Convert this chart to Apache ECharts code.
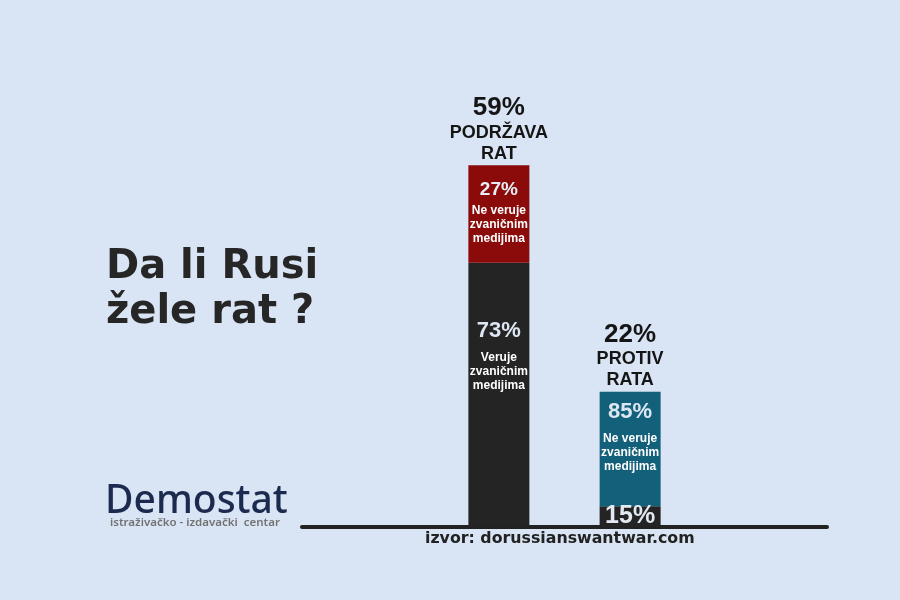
<!DOCTYPE html>
<html>
<head>
<meta charset="utf-8">
<script src="https://cdn.jsdelivr.net/npm/echarts@6/dist/echarts.min.js"></script>
<style>
html,body{margin:0;padding:0;background:#d9e5f4;}
#chart{width:900px;height:600px;}
</style>
</head>
<body>
<div id="chart"></div>
<script>
// Data
var categories = ['', 'PODRŽAVA RAT', 'PROTIV RATA', ''];
var groupShare = [null, 59, 22, null];          // % of all respondents
var groupLine1 = [null, 'PODRŽAVA', 'PROTIV', null];
var groupLine2 = [null, 'RAT', 'RATA', null];
var trustShare = [null, 73, 15, null];          // % trusting official media
var distrustShare = [null, 27, 85, null];       // % not trusting official media
var trustText = ['Veruje', 'zvaničnim', 'medijima'];
var distrustText = ['Ne veruje', 'zvaničnim', 'medijima'];

var trustVals = groupShare.map(function (g, i) { return g == null ? null : g * trustShare[i] / 100; });
var distrustVals = groupShare.map(function (g, i) { return g == null ? null : g * distrustShare[i] / 100; });
var topVals = groupShare.map(function (g) { return g == null ? null : 0; });

var chart = echarts.init(document.getElementById('chart'));
var FF = 'Liberation Sans';

var txtRich = {
  p: { fontFamily: FF, fontWeight: 'bold', fontSize: 22, color: '#dde7f3', lineHeight: 40 },
  p2: { fontFamily: FF, fontWeight: 'bold', fontSize: 19, color: '#e8eef6', lineHeight: 28 },
  p3: { fontFamily: FF, fontWeight: 'bold', fontSize: 25, color: '#e2e9f3', lineHeight: 26 },
  t: { fontFamily: FF, fontWeight: 'bold', fontSize: 12, color: '#ffffff', lineHeight: 14 }
};

function block(pct, style, lines) {
  var s = '{' + style + '|' + pct + '%}';
  if (lines) lines.forEach(function (l) { s += '\n{t|' + l + '}'; });
  return s;
}

var option = {
  backgroundColor: '#d9e5f4',
  animation: false,
  textStyle: { fontFamily: FF },
  grid: { left: 302, right: 73, top: 36.5, bottom: 73.5 },
  xAxis: {
    type: 'category',
    data: categories,
    axisLine: { show: true, lineStyle: { color: '#222222', width: 4 } },
    axisTick: { show: false },
    axisLabel: { show: false },
    splitLine: { show: false }
  },
  yAxis: {
    type: 'value', min: 0, max: 80, show: false,
    splitLine: { show: false }
  },
  series: [
    {
      name: 'trust', type: 'bar', stack: 'g', barWidth: 61, z: 2,
      data: trustVals.map(function (v, i) {
        if (v == null) return null;
        var big = i === 1;
        return {
          value: v,
          itemStyle: { color: '#242424' },
          label: big ? {
            show: true, position: 'insideTop', distance: 48,
            formatter: block(trustShare[i], 'p', trustText), rich: txtRich
          } : {
            show: true, position: 'inside',
            formatter: block(trustShare[i], 'p3', null), rich: txtRich
          }
        };
      })
    },
    {
      name: 'distrust', type: 'bar', stack: 'g', barWidth: 61, z: 2,
      data: distrustVals.map(function (v, i) {
        if (v == null) return null;
        var first = i === 1;
        return {
          value: v,
          itemStyle: { color: first ? '#8b0b0b' : '#13607a' },
          label: {
            show: true, position: 'insideTop', distance: first ? 11 : 0,
            formatter: block(distrustShare[i], first ? 'p2' : 'p', distrustText), rich: txtRich
          }
        };
      })
    },
    {
      name: 'total', type: 'bar', stack: 'g', barWidth: 61, z: 3,
      data: topVals.map(function (v, i) {
        if (v == null) return null;
        return {
          value: v,
          label: {
            show: true, position: 'top', distance: 1,
            formatter: '{a|' + groupShare[i] + '%}\n{b|' + groupLine1[i] + '}\n{b|' + groupLine2[i] + '}',
            rich: {
              a: { fontFamily: FF, fontWeight: 'bold', fontSize: 26, color: '#151515', lineHeight: 28, align: 'center' },
              b: { fontFamily: FF, fontWeight: 'bold', fontSize: 18, color: '#151515', lineHeight: 21, align: 'center' }
            }
          }
        };
      })
    }
  ],
  graphic: [
    { type: 'text', left: 106, top: 248, style: { text: 'Da li Rusi', font: 'bold 40px "DejaVu Sans"', fill: '#262626' } },
    { type: 'text', left: 106, top: 293, style: { text: 'žele rat ?', font: 'bold 40px "DejaVu Sans"', fill: '#262626' } },
    { type: 'text', left: 105, top: 482, style: {
        text: 'Demo{s|s}tat', font: '500 39px "Noto Sans"', fill: '#1b2a4e',
        rich: { s: { fontFamily: 'Noto Sans', fontWeight: 500, fontSize: 39, color: '#e85a2a' } }
      } },
    { type: 'text', left: 110, top: 517, style: { text: 'istraživačko - izdavački  centar', font: '600 11.5px "Noto Sans"', fill: '#727272' } },
    { type: 'text', left: 425, top: 531, style: { text: 'izvor: dorussianswantwar.com', font: 'bold 15.8px "DejaVu Sans"', fill: '#222222' } }
  ]
};
chart.setOption(option);
</script>
</body>
</html>
